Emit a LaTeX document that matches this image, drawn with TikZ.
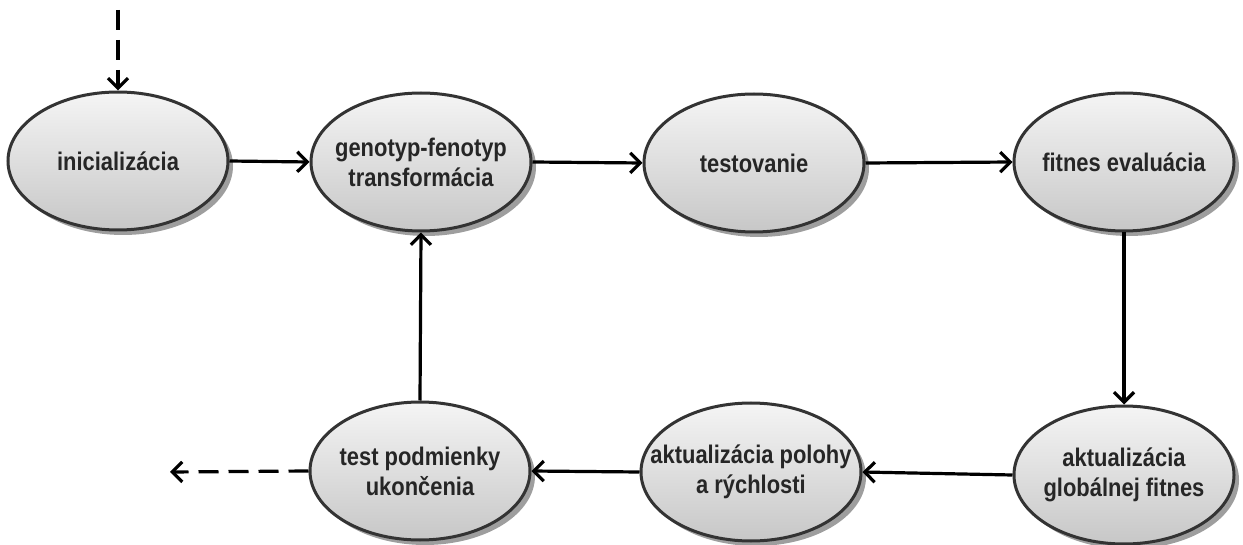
\documentclass[tikz,border=0pt]{standalone}
\usepackage{fontspec}
\newfontfamily\lab[FakeStretch=0.86]{Liberation Sans Bold}
\usetikzlibrary{arrows.meta,shadows,shapes.geometric}
\tikzset{
  state/.style={ellipse, draw=black!80, line width=3pt,
    top color=black!4, bottom color=black!22,
    general shadow={shadow xshift=5pt, shadow yshift=-5pt, fill=black!38},
    minimum width=220pt, minimum height=138pt, inner xsep=-30pt, inner ysep=0pt,
    align=center, font=\lab\fontsize{25.5}{30}\selectfont, text=black!85},
  flow/.style={line width=3.2pt, -{Straight Barb[length=10pt,width=20pt,line width=3.2pt]}},
  dflow/.style={flow, dash pattern=on 20pt off 10pt}
}
\begin{document}
\begin{tikzpicture}[x=1pt,y=-1pt]
\useasboundingbox (0,0) rectangle (1243,545);
\node[state] (init) at (118,161) {inicializácia};
\node[state] (geno) at (421,162) {genotyp-fenotyp\\transformácia};
\node[state] (test) at (754,163) {testovanie};
\node[state] (fit)  at (1124,162) {fitnes evaluácia};
\node[state] (glob) at (1124,475) {aktualizácia\\globálnej fitnes};
\node[state] (pol)  at (751,472) {aktualizácia polohy\\a rýchlosti};
\node[state] (cond) at (420,471) {test podmienky\\ukončenia};
\coordinate (start) at (118,10);
\coordinate (stop) at (170,472);
\draw[dflow] (start) -- (init.north);
\draw[flow] (init.east) -- (geno.west);
\draw[flow] (geno.east) -- (test.west);
\draw[flow] (test.east) -- (fit.west);
\draw[flow] (fit.south) -- (glob.north);
\draw[flow] (glob.west) -- (pol.east);
\draw[flow] (pol.west) -- (cond.east);
\draw[flow] (cond.north) -- (geno.south);
\draw[dflow] (cond.west) -- (stop);
\end{tikzpicture}
\end{document}
